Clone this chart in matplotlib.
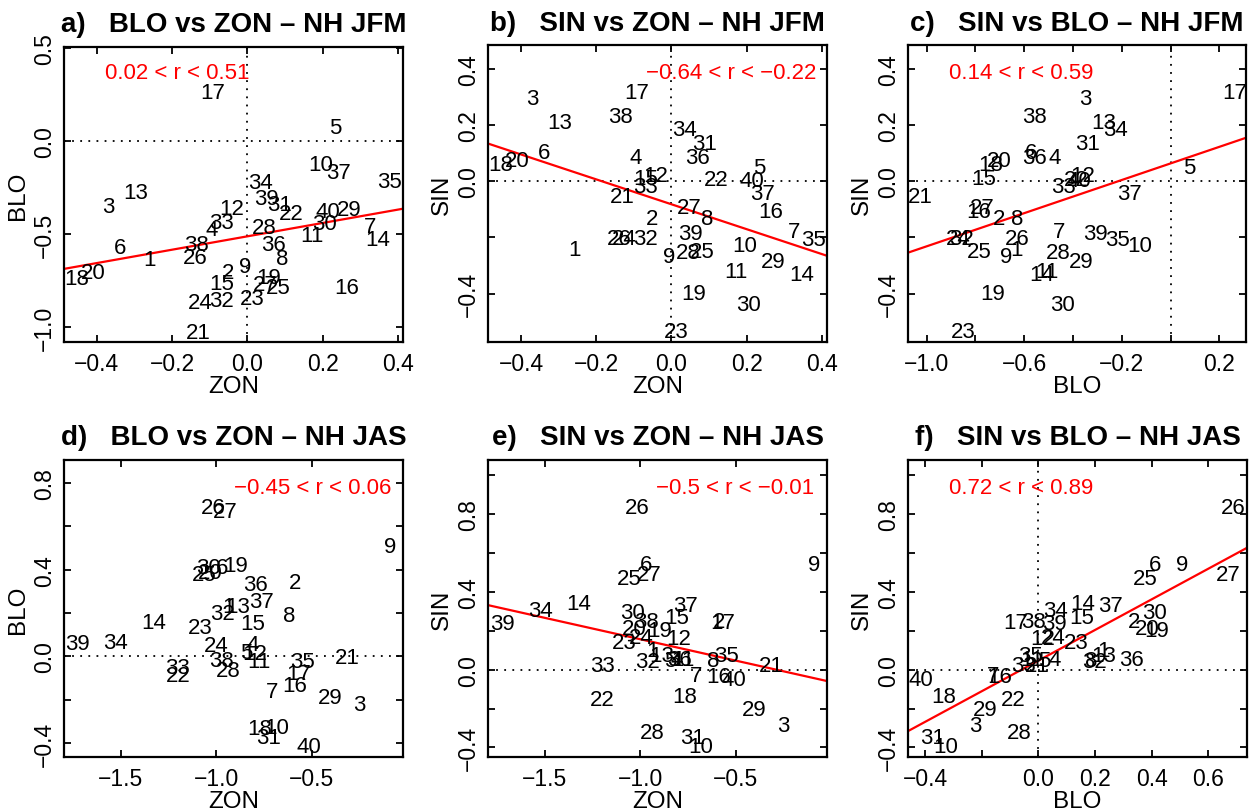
import numpy as np
import matplotlib.pyplot as plt

plt.rcParams['font.family'] = ['Liberation Sans', 'DejaVu Sans']

labels = np.arange(1, 41)

# NH JFM indices (label i -> position i-1)
zon_jfm = [-0.259, -0.052, -0.369, -0.095, 0.233, -0.338, 0.326, 0.094, -0.006, 0.195,
           0.171, -0.042, -0.296, 0.346, -0.068, 0.264, -0.092, -0.453, 0.058, -0.409,
           -0.130, 0.118, 0.012, -0.126, 0.082, -0.139, 0.047, 0.044, 0.271, 0.206,
           0.087, -0.068, -0.068, 0.035, 0.377, 0.069, 0.242, -0.135, 0.051, 0.215]
blo_jfm = [-0.633, -0.704, -0.349, -0.475, 0.075, -0.570, -0.457, -0.629, -0.672, -0.125,
           -0.507, -0.360, -0.274, -0.529, -0.767, -0.785, 0.263, -0.737, -0.731, -0.704,
           -1.027, -0.387, -0.848, -0.869, -0.785, -0.627, -0.771, -0.462, -0.367, -0.444,
           -0.342, -0.857, -0.439, -0.224, -0.217, -0.557, -0.167, -0.556, -0.310, -0.376]
sin_jfm = [-0.243, -0.132, 0.293, 0.085, 0.050, 0.103, -0.178, -0.134, -0.267, -0.229,
           -0.321, 0.020, 0.210, -0.332, 0.011, -0.107, 0.317, 0.058, -0.399, 0.074,
           -0.053, 0.006, -0.535, -0.202, -0.249, -0.202, -0.093, -0.253, -0.285, -0.440,
           0.136, -0.202, -0.019, 0.186, -0.208, 0.085, -0.045, 0.231, -0.187, 0.002]

# NH JAS indices
zon_jas = [-0.935, -0.586, -0.250, -0.808, -0.841, -0.970, -0.708, -0.620, -0.090, -0.685,
           -0.775, -0.800, -0.888, -1.325, -0.810, -0.588, -0.569, -0.770, -0.900, -1.030,
           -0.313, -1.200, -1.082, -0.997, -1.060, -1.016, -0.955, -0.935, -0.404, -1.040,
           -0.727, -0.965, -1.200, -1.526, -0.550, -0.796, -0.762, -0.970, -1.725, -0.512]
blo_jas = [0.230, 0.340, -0.223, 0.057, 0.020, 0.412, -0.160, 0.188, 0.508, -0.328,
           -0.022, 0.015, 0.230, 0.156, 0.152, -0.135, -0.080, -0.333, 0.418, 0.386,
           -0.005, -0.087, 0.134, 0.052, 0.377, 0.688, 0.671, -0.067, -0.189, 0.410,
           -0.373, 0.198, -0.051, 0.062, -0.026, 0.330, 0.254, -0.017, 0.058, -0.416]
sin_jas = [0.100, 0.246, -0.288, 0.050, 0.046, 0.544, -0.031, 0.046, 0.539, -0.396,
           0.050, 0.158, 0.075, 0.343, 0.269, -0.035, 0.242, -0.140, 0.201, 0.214,
           0.024, -0.156, 0.141, 0.165, 0.470, 0.835, 0.489, -0.322, -0.207, 0.292,
           -0.348, 0.040, 0.021, 0.304, 0.074, 0.055, 0.329, 0.250, 0.240, -0.048]

W, H = 1255, 812
fig = plt.figure(figsize=(W / 100, H / 100), dpi=100)


def add_panel(box, x, y, xlab, ylab, title, rtext, rpos, xlim, ylim,
              xticks, xtl, yticks, ytl, fit=True):
    l, t, r, b = box
    ax = fig.add_axes([l / W, 1 - b / H, (r - l) / W, (b - t) / H])
    ax.set_xlim(xlim)
    ax.set_ylim(ylim)
    ax.axhline(0, color='k', ls=(0, (1, 3.5)), lw=1.3)
    ax.axvline(0, color='k', ls=(0, (1, 3.5)), lw=1.3)
    if fit:
        k, c = np.polyfit(x, y, 1)
        xx = np.array(xlim)
        ax.plot(xx, k * xx + c, color='red', lw=1.6)
    for lab, xi, yi in zip(labels, x, y):
        ax.text(xi, yi, str(lab), ha='center', va='center', fontsize=16)
    ax.set_xticks(xticks)
    ax.set_xticklabels(xtl, fontsize=16.5)
    ax.set_yticks(yticks)
    ax.set_yticklabels(ytl, fontsize=16.5, rotation=90, va='center')
    ax.tick_params(direction='in', top=True, right=True, length=5, width=1.3)
    ax.tick_params(axis='x', pad=7)
    ax.tick_params(axis='y', pad=6)
    for s in ax.spines.values():
        s.set_linewidth(1.6)
    ax.set_xlabel(xlab, fontsize=17.5, labelpad=0)
    ax.set_ylabel(ylab, fontsize=17.5, labelpad=3)
    ax.set_title(title, fontsize=20, fontweight='bold', pad=11)
    ha = 'left' if rpos[0] < 0.5 else 'right'
    ax.text(rpos[0], rpos[1], rtext, transform=ax.transAxes, color='red',
            fontsize=16, ha=ha, va='center')
    return ax


def fmt(v):
    return ('%.1f' % v).replace('-', '\u2212')


t02 = [-0.4, -0.2, 0.0, 0.2, 0.4]
add_panel((64, 47.7, 402.7, 343.3), zon_jfm, blo_jfm, 'ZON', 'BLO',
          'a)   BLO vs ZON \u2013 NH JFM', '0.02 < r < 0.51', (0.121, 0.913),
          (-0.487, 0.413), (-1.081, 0.509),
          t02, [fmt(v) for v in t02],
          [-1.0, -0.5, 0.0, 0.5], [fmt(v) for v in [-1.0, -0.5, 0.0, 0.5]])

add_panel((488.3, 46, 826.7, 343.3), zon_jfm, sin_jfm, 'ZON', 'SIN',
          'b)   SIN vs ZON \u2013 NH JFM', '\u22120.64 < r < \u22120.22', (0.970, 0.906),
          (-0.487, 0.413), (-0.573, 0.485),
          t02, [fmt(v) for v in t02],
          t02, [fmt(-0.4), '', fmt(0.0), fmt(0.2), fmt(0.4)])

cx = [-1.0, -0.8, -0.6, -0.4, -0.2, 0.0, 0.2]
add_panel((908.3, 46, 1245.7, 343.3), blo_jfm, sin_jfm, 'BLO', 'SIN',
          'c)   SIN vs BLO \u2013 NH JFM', '0.14 < r < 0.59', (0.1215, 0.906),
          (-1.075, 0.308), (-0.573, 0.485),
          cx, [fmt(v) if i % 2 == 0 else '' for i, v in enumerate(cx)],
          t02, [fmt(-0.4), '', fmt(0.0), fmt(0.2), fmt(0.4)])

dx = [-1.5, -1.0, -0.5]
dy = [-0.4, -0.2, 0.0, 0.2, 0.4, 0.6, 0.8]
add_panel((64, 460.7, 402.7, 758.3), zon_jas, blo_jas, 'ZON', 'BLO',
          'd)   BLO vs ZON \u2013 NH JAS', '\u22120.45 < r < 0.06', (0.9675, 0.907),
          (-1.797, -0.023), (-0.466, 0.908),
          dx, [fmt(v) for v in dx],
          dy, [fmt(v) if i % 2 == 0 else '' for i, v in enumerate(dy)], fit=False)

ey = [-0.4, -0.2, 0.0, 0.2, 0.4, 0.6, 0.8, 1.0]
add_panel((488.3, 460.7, 826.7, 758.3), zon_jas, sin_jas, 'ZON', 'SIN',
          'e)   SIN vs ZON \u2013 NH JAS', '\u22120.5 < r < \u22120.01', (0.963, 0.907),
          (-1.797, -0.023), (-0.451, 1.081),
          dx, [fmt(v) for v in dx],
          ey, [fmt(v) if i % 2 == 0 else '' for i, v in enumerate(ey)])

fx = [-0.4, -0.2, 0.0, 0.2, 0.4, 0.6]
add_panel((908.3, 460.7, 1246.7, 758.3), blo_jas, sin_jas, 'BLO', 'SIN',
          'f)   SIN vs BLO \u2013 NH JAS', '0.72 < r < 0.89', (0.121, 0.907),
          (-0.459, 0.736), (-0.451, 1.081),
          fx, [fmt(v) if i != 1 else '' for i, v in enumerate(fx)],
          ey, [fmt(v) if i % 2 == 0 else '' for i, v in enumerate(ey)])

fig.savefig('out.png', dpi=100)
